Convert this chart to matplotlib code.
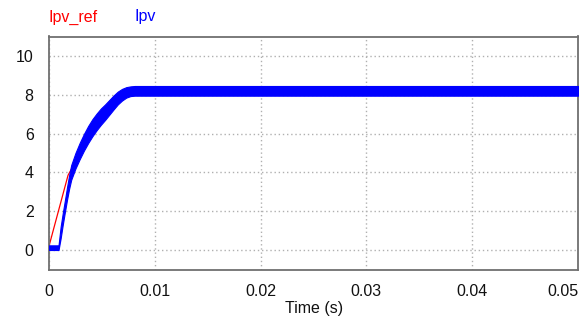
import matplotlib
matplotlib.use("Agg")
import matplotlib.pyplot as plt
import numpy as np

# Ipv_ref reference current
t_ref = [0.0, 0.0018, 0.0021, 0.0025, 0.0029, 0.0033, 0.0037, 0.0041, 0.0045, 0.0049,
         0.0053, 0.0057, 0.0061, 0.0065, 0.0069, 0.0073, 0.0077, 0.0081, 0.0500]
ipv_ref = [0.2, 3.85, 4.15, 4.65, 5.15, 5.6, 6.0, 6.35, 6.65, 6.9,
           7.12, 7.37, 7.62, 7.85, 8.02, 8.13, 8.18, 8.2, 8.2]

# Ipv measured current: band centre and half ripple
t_pv = [0.0, 0.0009, 0.0011, 0.0013, 0.0015, 0.0017, 0.0019, 0.0021, 0.0025, 0.0029,
        0.0033, 0.0037, 0.0041, 0.0045, 0.0049, 0.0053, 0.0057, 0.0061, 0.0065,
        0.0069, 0.0073, 0.0077, 0.0081, 0.0500]
ipv_mid = [0.12, 0.12, 0.9, 1.6, 2.25, 2.9, 3.5, 4.0, 4.6, 5.1,
           5.55, 5.95, 6.3, 6.6, 6.87, 7.1, 7.35, 7.6, 7.83,
           8.0, 8.12, 8.18, 8.2, 8.2]
ipv_half = [0.12, 0.12, 0.3, 0.3, 0.3, 0.32, 0.35, 0.38, 0.4, 0.42,
            0.43, 0.44, 0.44, 0.43, 0.42, 0.4, 0.38, 0.36, 0.33,
            0.3, 0.27, 0.25, 0.25, 0.25]

x_ticks = [0, 0.01, 0.02, 0.03, 0.04, 0.05]
x_labels = ["0", "0.01", "0.02", "0.03", "0.04", "0.05"]
y_ticks = [0, 2, 4, 6, 8, 10]

plt.rcParams['font.family'] = ['Liberation Sans', 'DejaVu Sans']

fig = plt.figure(figsize=(5.79, 3.22), dpi=100)
ax = fig.add_axes([49/579, 52/322, (578-49)/579, (270-36.5)/322])

mid = np.array(ipv_mid)
half = np.array(ipv_half)
ax.plot(t_ref, ipv_ref, color='#ff0000', lw=0.9, zorder=2)
ax.fill_between(t_pv, mid - half, mid + half, color='#0000ff', lw=0.8, edgecolor='#0000ff', zorder=3)

ax.set_xlim(0, 0.05)
ax.set_ylim(-1.03, 11.0)
ax.set_xticks(x_ticks)
ax.set_xticklabels(x_labels)
ax.set_yticks(y_ticks)
ax.tick_params(length=0, labelsize=11.5, colors='#111111')
ax.tick_params(axis='y', pad=11)
ax.tick_params(axis='x', pad=10)
ax.get_xticklabels()[-1].set_horizontalalignment('right')
ax.grid(True, color='#b0b0b0', linestyle=(0, (1, 2)), lw=1.0)
for s in ax.spines.values():
    s.set_color('#707070')
    s.set_linewidth(1.3)

fig.text(314/579, 1 - 309/322, "Time (s)", fontsize=11.5, va='center', ha='center', color='#111111')
fig.text(49/579, 1 - 17/322, "Ipv_ref", color='#ff0000', fontsize=11.5, va='center', ha='left')
fig.text(135/579, 1 - 17/322, "Ipv", color='#0000ff', fontsize=11.5, va='center', ha='left')

fig.savefig("out.png", dpi=100)
